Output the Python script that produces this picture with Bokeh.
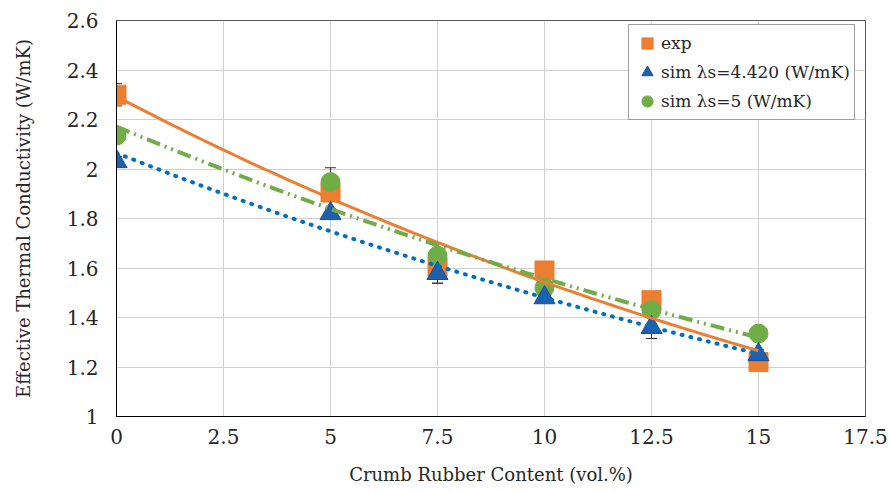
import numpy as np
from bokeh.plotting import figure
from bokeh.models import ColumnDataSource, Whisker, TeeHead, FixedTicker, Legend, LegendItem
from bokeh.embed import file_html
from bokeh.resources import INLINE

# ---- data ----
content = [0, 5, 7.5, 10, 12.5, 15]
exp_vals = [2.30, 1.905, 1.605, 1.59, 1.47, 1.22]
exp_err = [0.045, 0.10, 0.066, 0.03, 0.03, 0.03]
sim442_vals = [2.03, 1.82, 1.578, 1.48, 1.36, 1.25]
sim442_err = [0.02, 0.02, 0.04, 0.02, 0.045, 0.02]
sim5_vals = [2.135, 1.947, 1.65, 1.52, 1.43, 1.335]

x_ticks = [0, 2.5, 5, 7.5, 10, 12.5, 15, 17.5]
x_tick_labels = ["0", "2.5", "5", "7.5", "10", "12.5", "15", "17.5"]
y_ticks = [1, 1.2, 1.4, 1.6, 1.8, 2, 2.2, 2.4, 2.6]
y_tick_labels = ["1", "1.2", "1.4", "1.6", "1.8", "2", "2.2", "2.4", "2.6"]

names = ["exp", "sim \u03bbs=4.420 (W/mK)", "sim \u03bbs=5 (W/mK)"]

ORANGE = "#ED7D31"
BLUE_M = "#1F5FAD"
BLUE_L = "#0070C0"
GREEN = "#70AD47"
FONT = "DejaVu Serif"


def exp_trend(xs, ys):
    b, a = np.polyfit(np.array(xs, dtype=float), np.log(np.array(ys, dtype=float)), 1)
    xx = np.linspace(min(xs), max(xs), 120)
    return xx, np.exp(a + b * xx)


p = figure(width=890, height=493, x_range=(0, 17.5), y_range=(1, 2.6),
           output_backend="svg", toolbar_location=None,
           min_border_left=116, min_border_right=25, min_border_top=20, min_border_bottom=77)

p.background_fill_color = "white"
p.border_fill_color = "white"
p.outline_line_color = "#595959"
p.outline_line_width = 1

for ax in (p.xaxis[0], p.yaxis[0]):
    ax.major_tick_in = 0
    ax.major_tick_out = 0
    ax.minor_tick_in = 0
    ax.minor_tick_out = 0
    ax.axis_line_color = "black"
    ax.axis_line_width = 1
    ax.major_label_text_font = FONT
    ax.major_label_text_font_size = "20px"
    ax.major_label_text_color = "#262626"
    ax.axis_label_text_font = FONT
    ax.axis_label_text_font_size = "18px"
    ax.axis_label_text_font_style = "normal"
    ax.axis_label_text_color = "#262626"

p.xaxis.ticker = FixedTicker(ticks=x_ticks)
p.yaxis.ticker = FixedTicker(ticks=y_ticks)
p.xaxis.major_label_overrides = {t: l for t, l in zip(x_ticks, x_tick_labels)}
p.yaxis.major_label_overrides = {t: l for t, l in zip(y_ticks, y_tick_labels)}
p.xaxis.axis_label = "Crumb Rubber Content (vol.%)"
p.yaxis.axis_label = "Effective Thermal Conductivity (W/mK)"
p.xaxis.major_label_standoff = 12
p.yaxis.major_label_standoff = 18
p.xaxis.axis_label_standoff = 17
p.yaxis.axis_label_standoff = 30

p.xgrid.grid_line_color = "#D0D0D0"
p.ygrid.grid_line_color = "#D0D0D0"
p.xgrid.ticker = FixedTicker(ticks=x_ticks)
p.ygrid.ticker = FixedTicker(ticks=y_ticks)

# error bars
src_exp = ColumnDataSource(dict(x=content, y=exp_vals,
                                lo=[v - e for v, e in zip(exp_vals, exp_err)],
                                hi=[v + e for v, e in zip(exp_vals, exp_err)]))
src_s1 = ColumnDataSource(dict(x=content, y=sim442_vals,
                               lo=[v - e for v, e in zip(sim442_vals, sim442_err)],
                               hi=[v + e for v, e in zip(sim442_vals, sim442_err)]))
src_s2 = ColumnDataSource(dict(x=content, y=sim5_vals))

for s in (src_exp, src_s1):
    w = Whisker(source=s, base="x", lower="lo", upper="hi", line_color="#333333", line_width=1,
                upper_head=TeeHead(size=11, line_color="#333333", line_width=1),
                lower_head=TeeHead(size=11, line_color="#333333", line_width=1),
                level="underlay")
    p.add_layout(w)

r_exp = p.scatter("x", "y", source=src_exp, marker="square", size=19,
                  fill_color=ORANGE, line_color=ORANGE)
r_s2 = p.scatter("x", "y", source=src_s2, marker="circle", size=19,
                 fill_color=GREEN, line_color=GREEN)
r_s1 = p.scatter("x", "y", source=src_s1, marker="triangle", size=21,
                 fill_color=BLUE_M, line_color="#1A4F8F", line_width=1)

# exponential trend lines fitted to each series
tx, ty = exp_trend(content, exp_vals)
p.line(tx, ty, line_color=ORANGE, line_width=3)
tx, ty = exp_trend(content, sim442_vals)
p.line(tx, ty, line_color=BLUE_L, line_width=4, line_dash="1 8", line_cap="round")
tx, ty = exp_trend(content, sim5_vals)
p.line(tx, ty, line_color=GREEN, line_width=4, line_dash="14 5 2 5 2 5")

legend = Legend(items=[LegendItem(label=names[0], renderers=[r_exp]),
                       LegendItem(label=names[1], renderers=[r_s1]),
                       LegendItem(label=names[2], renderers=[r_s2])],
                location=(512, 296))
legend.label_text_font = FONT
legend.label_text_font_size = "17px"
legend.label_text_color = "#262626"
legend.border_line_color = "#404040"
legend.border_line_width = 1
legend.background_fill_alpha = 1
legend.padding = 4
legend.spacing = 1
legend.margin = 0
legend.glyph_width = 28
legend.glyph_height = 28
legend.label_height = 28
legend.label_standoff = 0
p.add_layout(legend, "center")

open("out.html", "w").write(file_html(p, INLINE))
